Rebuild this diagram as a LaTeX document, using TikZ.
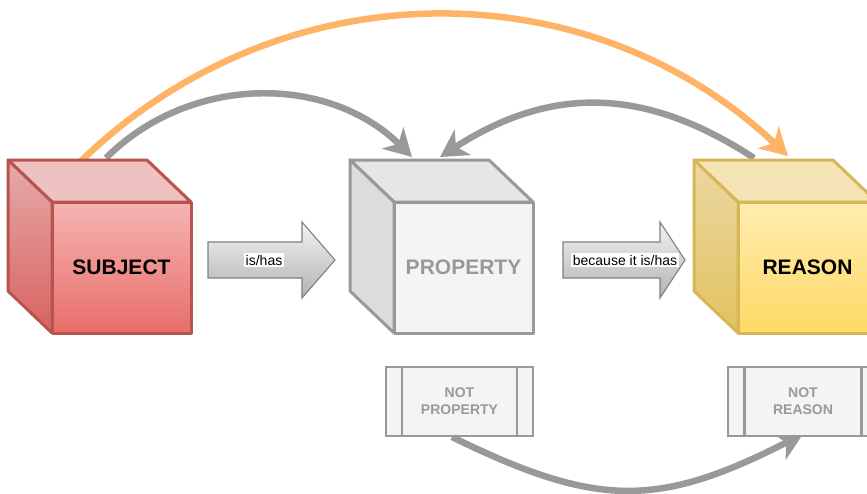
\documentclass[tikz,border=0pt]{standalone}
\usepackage{fontspec}
\setmainfont{Liberation Sans}
\usetikzlibrary{arrows.meta}
\definecolor{redstroke}{HTML}{B85450}
\definecolor{redtop}{HTML}{F5B4B2}
\definecolor{redbot}{HTML}{E96E6A}
\definecolor{redlid}{HTML}{EEC2C1}
\definecolor{redsideT}{HTML}{E5ABAA}
\definecolor{redsideB}{HTML}{D8625F}
\definecolor{yelstroke}{HTML}{D6B656}
\definecolor{yeltop}{HTML}{FFEDB0}
\definecolor{yelbot}{HTML}{FFD966}
\definecolor{yellid}{HTML}{F4E3B4}
\definecolor{yelsideT}{HTML}{EBD8A2}
\definecolor{yelsideB}{HTML}{E2C35E}
\definecolor{grstroke}{HTML}{999999}
\definecolor{grfront}{HTML}{F4F4F4}
\definecolor{grlid}{HTML}{E6E6E6}
\definecolor{grside}{HTML}{DCDCDC}
\definecolor{orangearc}{HTML}{FFB366}
\definecolor{grayarc}{HTML}{999999}
\newcommand\cubesides[5]{%
  \draw[face, draw=#5, fill=#2] (#1.north west) -- ++(-44,-42) -- ++(139,0) -- (#1.north east) -- cycle;
  \draw[face, draw=#5, top color=#3, bottom color=#4] (#1.north west) -- ++(-44,-42) -- ++(0,131) -- (#1.south west) -- cycle;
}
\begin{document}
\begin{tikzpicture}[x=1pt,y=-1pt,
  face/.style={line width=3pt, line join=round},
  front/.style={face, minimum width=139pt, minimum height=131pt, outer sep=0pt, inner sep=0pt,
    font=\fontsize{21}{25}\selectfont\bfseries},
  arcline/.style={line width=6.5pt, -{Stealth[length=27pt,width=30pt,inset=8pt]}},
  blockarrow/.style={draw=black!50, line width=1.1pt, line join=miter, top color=black!5, bottom color=black!30},
  lbl/.style={fill=white, inner sep=1.5pt, font=\fontsize{14}{16}\selectfont},
  notbox/.style={draw=grstroke, fill=grfront, line width=2.6pt, outer sep=0pt, inner sep=0pt,
    minimum height=69pt, align=center, text=grstroke,
    font=\fontsize{14}{17}\selectfont\bfseries}
]
\useasboundingbox (0,0) rectangle (867,493);
\clip (0,0) rectangle (867,493);

% arc end points
\coordinate (oS) at (80,162);
\coordinate (oE) at (788,156);
\coordinate (g1S) at (106,158);
\coordinate (g1E) at (412,157);
\coordinate (g2S) at (754,158);
\coordinate (g2E) at (440,157);
\coordinate (bS) at (452,437);
\coordinate (bE) at (803,434);

% arcs (drawn beneath the cubes)
\draw[arcline, draw=orangearc, -{Stealth[length=27pt,width=30pt,inset=8pt,fill=orangearc]}]
  (oS) .. controls +(200,-195) and +(-200,-189) .. (oE);
\draw[arcline, draw=grayarc] (g1S) .. controls +(84,-84) and +(-84,-83) .. (g1E);
\draw[arcline, draw=grayarc] (g2S) .. controls +(-110,-72) and +(110,-71) .. (g2E);
\draw[arcline, draw=grayarc] (bS) .. controls +(145,71) and +(-145,74) .. (bE);

% cubes
\node[front, draw=redstroke, top color=redtop, bottom color=redbot] (subject) at (121.5,267.5) {SUBJECT};
\cubesides{subject}{redlid}{redsideT}{redsideB}{redstroke}

\node[front, draw=grstroke, fill=grfront, text=grstroke] (property) at (463.5,267.5) {PROPERTY};
\cubesides{property}{grlid}{grside}{grside}{grstroke}

\node[front, draw=yelstroke, top color=yeltop, bottom color=yelbot] (reason) at (807.5,267.5) {REASON};
\cubesides{reason}{yellid}{yelsideT}{yelsideB}{yelstroke}

% block arrows
\draw[blockarrow] (208,242) -- (302,242) -- (302,222) -- (335,260) -- (302,298) -- (302,278) -- (208,278) -- cycle;
\node[lbl] (ishas) at (264,260) {is/has};
\draw[blockarrow] (563,242) -- (660,242) -- (660,222) -- (685,260) -- (660,298) -- (660,278) -- (563,278) -- cycle;
\node[lbl] (because) at (625,260) {because it is/has};

% not boxes
\node[notbox, minimum width=147pt] (notprop) at (459.5,401.5) {NOT\\PROPERTY};
\draw[draw=grstroke, line width=2.6pt] ([xshift=16pt]notprop.north west) -- ([xshift=16pt]notprop.south west)
  ([xshift=-16pt]notprop.north east) -- ([xshift=-16pt]notprop.south east);
\node[notbox, minimum width=150pt] (notreas) at (803,401.5) {NOT\\REASON};
\draw[draw=grstroke, line width=2.6pt] ([xshift=16.5pt]notreas.north west) -- ([xshift=16.5pt]notreas.south west)
  ([xshift=-16.5pt]notreas.north east) -- ([xshift=-16.5pt]notreas.south east);
\end{tikzpicture}
\end{document}
